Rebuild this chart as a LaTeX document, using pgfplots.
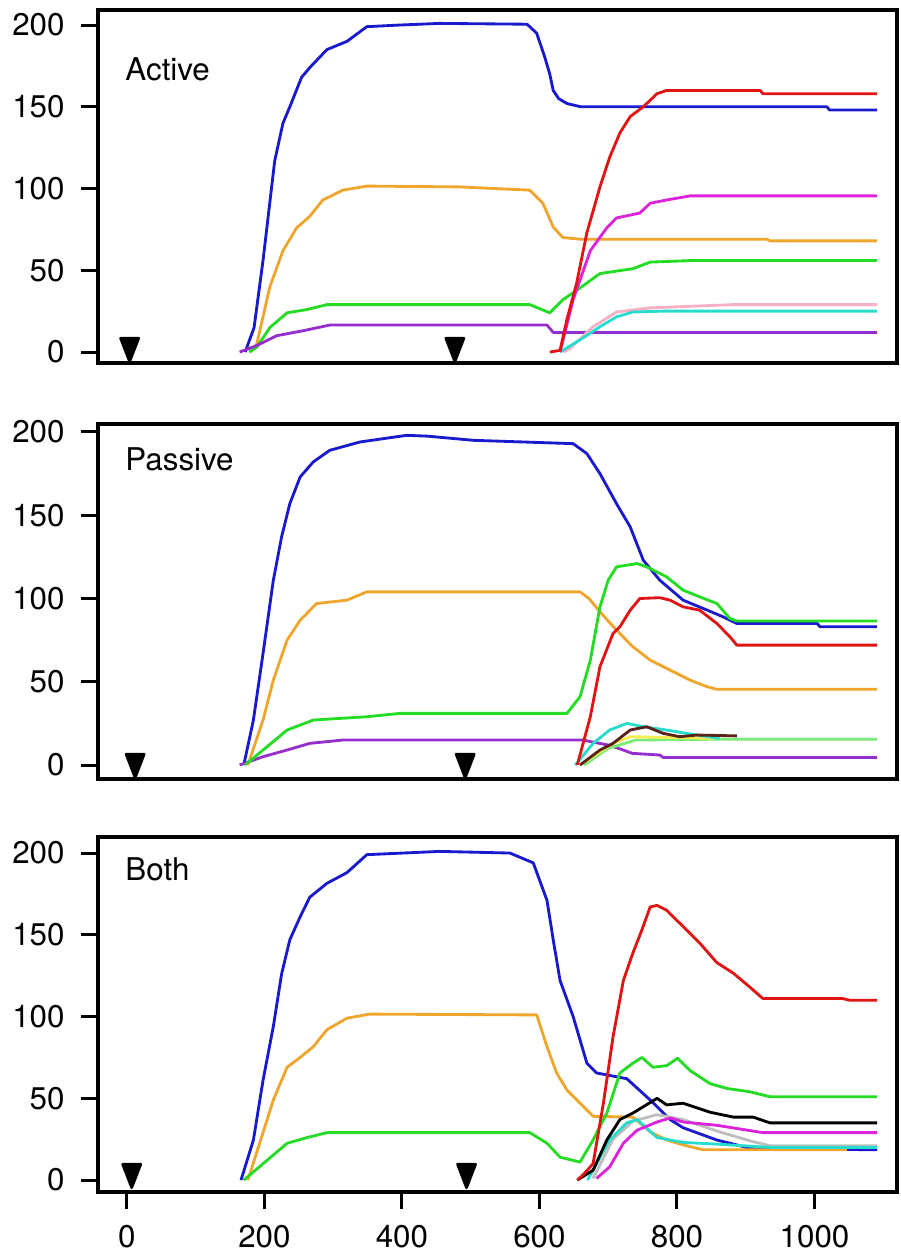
\documentclass[border=0pt]{standalone}
\usepackage{fontspec}
\setmainfont{TeX Gyre Heros}
\usepackage{pgfplots}
\pgfplotsset{compat=1.18}

\definecolor{cBlue}{RGB}{25,25,205}
\definecolor{cOrange}{RGB}{240,165,45}
\definecolor{cGreen}{RGB}{35,220,35}
\definecolor{cPurple}{RGB}{150,45,205}
\definecolor{cRed}{RGB}{225,20,20}
\definecolor{cMagenta}{RGB}{220,35,220}
\definecolor{cPink}{RGB}{250,175,195}
\definecolor{cCyan}{RGB}{40,220,205}
\definecolor{cDark}{RGB}{90,35,25}
\definecolor{cYellow}{RGB}{245,235,80}
\definecolor{cLightGreen}{RGB}{120,235,120}
\definecolor{cGray}{RGB}{190,190,190}

\pgfplotsset{
  panel/.style={
    width=239.7pt, scale only axis,
    xmin=-42, xmax=1120,
    axis line style={line width=1pt},
    ytick={0,50,100,150,200},
    tick align=outside,
    major tick length=5pt,
    tick style={line width=0.9pt, black},
    ytick pos=left, xtick pos=bottom,
    tick label style={font=\fontsize{9.4}{10}\selectfont},
    /pgf/number format/assume math mode=true,
    /pgf/number format/1000 sep={},
    yticklabel style={xshift=-1.5pt},
    every axis plot/.append style={line width=0.85pt, line join=round},
    clip=false,
    anchor=north west,
  },
  trimark/.style={only marks, mark=triangle*, mark size=3.1pt,
    mark options={fill=black, draw=black, rotate=180, yscale=1.5}},
}

\newcommand{\paneltitle}[2]{\node[anchor=base west, inner sep=0pt,
  font=\fontsize{9.4}{10}\selectfont] at (axis cs:-3,#1) {#2};}

\begin{document}
\begin{tikzpicture}
\useasboundingbox (-29.4pt,3pt) rectangle (240.6pt,-373.8pt);

% ---------- Active ----------
\begin{axis}[panel, at={(0pt,0pt)}, height=105.9pt, ymin=-6.7, ymax=209.2,
  xtick=\empty]
\addplot[cBlue] coordinates {(172,0) (185,15) (198,56) (215,117) (227,140) (237,150) (254,168) (266,174) (291,185) (320,190) (349,199) (397,200) (455,201) (582,200.5) (596,195) (608,180) (615,170) (620,160) (628,155) (640,152) (660,150) (1018,150) (1022,148) (1091,148)};
\addplot[cOrange] coordinates {(180,0) (189,5) (208,40) (227,62) (247,76) (266,83) (285,93) (314,99) (349,101.5) (484,101) (586,99) (605,91) (620,76.5) (634,70) (660,69) (931,69) (935,68) (1091,68)};
\addplot[cGreen] coordinates {(178,0) (189,3) (208,15) (233,24) (262,26) (291,29) (586,29) (615,24) (634,32) (655,38) (688,48) (736,51) (761,55) (824,56) (1091,56)};
\addplot[cPurple] coordinates {(164,0) (189,4) (218,10) (256,13) (295,16.5) (611,16.5) (620,12) (1091,12)};
\addplot[cPink] coordinates {(635,0) (644,2) (678,15.5) (712,24.5) (761,27) (882,29) (1091,29)};
\addplot[cCyan] coordinates {(630,0) (663,8.5) (688,15.5) (712,21.5) (736,24.5) (780,25) (1091,25)};
\addplot[cMagenta] coordinates {(630,0) (649,32) (674,62) (698,76) (712,82) (746,85) (761,91) (785,93) (819,95.5) (1091,95.5)};
\addplot[cRed] coordinates {(615,0) (630,1) (640,20) (654,42) (669,73) (688,101) (702,119) (717,134) (732,144) (751,150) (771,158) (785,160) (921,160) (925,158) (1091,158)};
\addplot[trimark] coordinates {(4,3.7) (477,3.7)};
\paneltitle{166}{Active}
\end{axis}

% ---------- Passive ----------
\begin{axis}[panel, at={(0pt,-124.2pt)}, height=106.5pt, ymin=-8.4, ymax=204.8,
  xtick=\empty]
\addplot[cBlue] coordinates {(170,0) (184,27) (198,67) (213,111) (225,137) (237,157) (252,173) (271,182) (295,189) (339,194) (407,198) (437,197.5) (504,195) (649,193) (669,187) (688,175) (712,157) (732,143) (751,123) (775,111) (809,99) (844,93) (867,89) (887,85) (1004,85) (1008,83) (1091,83)};
\addplot[cOrange] coordinates {(176,0) (198,27) (213,51) (233,75) (252,87) (276,97) (320,99) (349,104) (659,104) (672,100) (688,92) (712,81) (736,71) (761,63) (790,57) (819,51) (844,47) (858,45.5) (1091,45.5)};
\addplot[cPurple] coordinates {(164,0) (198,5) (233,9) (266,13) (314,15) (663,15) (700,12) (715,10) (735,7) (775,6) (780,4.5) (1091,4.5)};
\addplot[cLightGreen] coordinates {(665,0) (700,10) (740,15) (862,15.5) (1091,15.5)};
\addplot[cYellow] coordinates {(659,0) (707,13) (732,17) (853,16)};
\addplot[cCyan] coordinates {(652,0) (678,13) (702,21) (727,25) (751,23) (785,21) (829,18) (862,16)};
\addplot[cDark] coordinates {(659,0) (688,9) (707,13) (732,21) (756,23) (780,19) (804,17) (829,18) (887,17.5)};
\addplot[cRed] coordinates {(655,0) (674,29) (688,59) (707,79) (717,83) (732,93) (746,100) (775,100.5) (790,99) (809,95) (833,93) (858,85) (877,77) (887,72) (1091,72)};
\addplot[cGreen] coordinates {(172,0) (198,9) (233,21) (271,27) (349,29) (397,31) (640,31) (659,41) (674,63) (688,95) (700,111) (712,119) (742,121) (756,119) (785,113) (809,105) (833,101) (858,97) (877,88) (887,86.5) (1091,86.5)};
\addplot[trimark] coordinates {(12,1.8) (492,1.8)};
\paneltitle{176.6}{Passive}
\end{axis}

% ---------- Both ----------
\begin{axis}[panel, at={(0pt,-248.1pt)}, height=106.5pt, ymin=-7.3, ymax=209.8,
  xtick={0,200,400,600,800,1000},
  xticklabel style={yshift=-1.5pt}]
\addplot[cBlue] coordinates {(166,0) (184,24.5) (198,61) (213,94) (225,126) (237,147) (252,161) (266,173) (291,181.5) (320,188) (349,199) (455,201) (557,200) (591,194) (611,171) (620,147) (630,122) (649,100) (669,71.5) (683,65.5) (727,62) (761,49) (790,37) (809,32) (858,24.5) (906,19.5) (1091,18.5)};
\addplot[cGray] coordinates {(678,1) (707,25) (736,36) (771,40) (809,37) (858,30) (906,24) (935,21) (1091,21)};
\addplot[cOrange] coordinates {(176,0) (198,29) (213,49) (233,69) (252,75) (271,81.5) (291,92) (320,99) (353,101.5) (596,101) (611,81.5) (625,65.5) (640,55) (659,47) (678,39) (736,38.5) (761,29.5) (785,24.5) (809,21.5) (838,18.5) (1047,18.5)};
\addplot[cCyan] coordinates {(670,0) (702,24.5) (727,35) (742,37) (771,26) (809,23) (858,22) (935,20) (1091,20)};
\addplot[cMagenta] coordinates {(683,1) (702,8) (722,22.5) (742,30.5) (771,35.5) (790,38) (809,35.5) (858,33.5) (925,29) (1091,29)};
\addplot[black] coordinates {(655,0) (678,6) (698,24.5) (717,37) (736,41) (771,50) (785,46) (809,47) (848,41.5) (882,38.5) (911,38.5) (935,35) (1091,35)};
\addplot[cGreen] coordinates {(170,0) (198,10) (233,22.5) (262,26) (291,29) (586,29) (611,22.5) (630,14) (659,11) (678,24.5) (698,41) (717,65.5) (736,71.5) (749,75) (765,69) (785,70) (801,74.5) (819,67) (848,59) (873,56) (906,54) (935,51) (1091,51)};
\addplot[cRed] coordinates {(655,0) (663,3) (678,10) (693,47) (707,87.5) (722,122) (736,139) (749,153) (761,167) (771,168) (785,165) (809,155) (833,145) (858,133) (882,126.5) (906,118) (925,111) (1041,111) (1051,110) (1091,110)};
\addplot[trimark] coordinates {(7,4.9) (494,4.9)};
\paneltitle{183.5}{Both}
\end{axis}
\end{tikzpicture}
\end{document}
